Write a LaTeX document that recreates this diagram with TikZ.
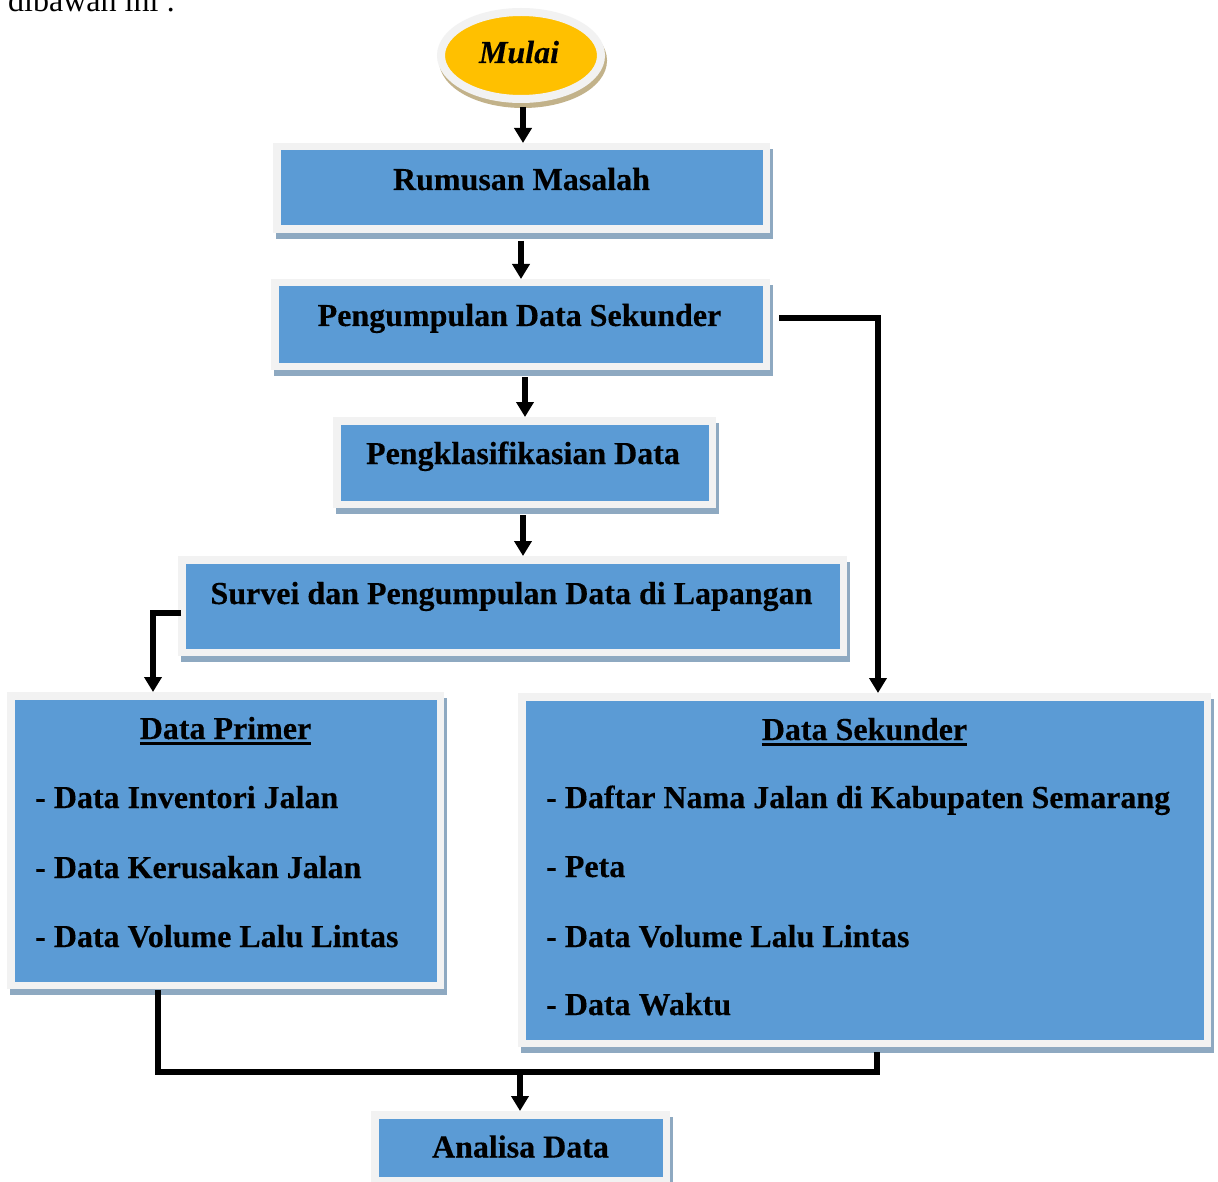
\documentclass[tikz,border=0pt]{standalone}
\usepackage{fontspec}
\setmainfont[BoldFeatures={FakeBold=0.3},BoldItalicFeatures={FakeBold=0.3}]{Liberation Serif}
\usetikzlibrary{arrows.meta,shapes.geometric}
\definecolor{boxblue}{HTML}{5B9BD5}
\definecolor{ringgray}{HTML}{F2F2F2}
\definecolor{shadowcol}{HTML}{8EA9C1}
\definecolor{startyellow}{HTML}{FFC000}
\definecolor{tanshadow}{HTML}{C2B28A}
\newcommand\ulbox[1]{\setbox0\hbox{#1}\rlap{\rule[-5.5pt]{\wd0}{2.3pt}}\box0}
\tikzset{
  flowbox/.style={draw=ringgray, line width=7.5pt, fill=boxblue, inner sep=0pt,
    preaction={draw=shadowcol, fill=shadowcol, transform canvas={xshift=3pt,yshift=-6pt}}},
  startnode/.style={ellipse, draw=ringgray, line width=8pt, fill=startyellow, inner sep=0pt,
    preaction={draw=tanshadow, fill=tanshadow, transform canvas={xshift=2pt,yshift=-5pt}}},
  btxt/.style={font=\fontsize{32}{38}\selectfont\bfseries, inner sep=0pt},
  arr/.style={line width=5.5pt, line join=miter, -{Triangle[width=17pt,length=15pt]}},
  conn/.style={line width=5.5pt, line join=miter}
}
\begin{document}
\begin{tikzpicture}[x=1pt,y=-1pt]
\useasboundingbox[fill=white] (0,0) rectangle (1218,1182);

% intro text (cut at top, as in the reference)
\node[font=\fontsize{32}{38}\selectfont, inner sep=0pt, anchor=base west] (intro) at (8,12) {dibawah ini :};

% start
\node[startnode, minimum width=160pt, minimum height=87pt] (mulai) at (521,55.5) {};
\node[btxt, font=\fontsize{32}{38}\selectfont\bfseries\itshape, anchor=base] (mulaiT) at (519,63) {Mulai};

% boxes
\node[flowbox, minimum width=489.5pt, minimum height=82.5pt] (rumus) at (521.5,188) {};
\node[btxt, anchor=base] (rumusT) at (521.5,190) {Rumusan Masalah};

\node[flowbox, minimum width=491.5pt, minimum height=83.5pt] (pengump) at (520.5,324.5) {};
\node[btxt, anchor=base] (pengumpT) at (519.5,326) {Pengumpulan Data Sekunder};

\node[flowbox, minimum width=375.5pt, minimum height=83.5pt] (klas) at (524.5,462.5) {};
\node[btxt, anchor=base] (klasT) at (523,464) {Pengklasifikasian Data};

\node[flowbox, minimum width=661.5pt, minimum height=92.5pt] (survei) at (512.5,606) {};
\node[btxt, anchor=base] (surveiT) at (511.5,604) {Survei dan Pengumpulan Data di Lapangan};

\node[flowbox, minimum width=429.5pt, minimum height=289.5pt] (primer) at (225.5,840.5) {};
\node[btxt, anchor=base] (primerT) at (225.5,739) {\ulbox{Data Primer}};
\node[btxt, anchor=base west] (primer1) at (35,808) {- Data Inventori Jalan};
\node[btxt, anchor=base west] (primer2) at (35,878) {- Data Kerusakan Jalan};
\node[btxt, anchor=base west] (primer3) at (35,947) {- Data Volume Lalu Lintas};

\node[flowbox, minimum width=685.5pt, minimum height=346.5pt] (sek) at (864.5,870) {};
\node[btxt, anchor=base] (sekT) at (864.5,740) {\ulbox{Data Sekunder}};
\node[btxt, anchor=base west] (sek1) at (546,808) {- Daftar Nama Jalan di Kabupaten Semarang};
\node[btxt, anchor=base west] (sek2) at (546,877) {- Peta};
\node[btxt, anchor=base west] (sek3) at (546,947) {- Data Volume Lalu Lintas};
\node[btxt, anchor=base west] (sek4) at (546,1015) {- Data Waktu};

\node[flowbox, minimum width=291.5pt, minimum height=65.5pt] (analisa) at (520.5,1147.5) {};
\node[btxt, anchor=base] (analisaT) at (520.5,1157.5) {Analisa Data};

% connectors
\coordinate (a1s) at ([xshift=2pt,yshift=-4pt]mulai.south);
\draw[arr] (a1s) -- (a1s |- rumus.north);

\coordinate (a2s) at ([xshift=-0.5pt,yshift=-8pt]rumus.south);
\draw[arr] (a2s) -- (a2s |- pengump.north);

\coordinate (a3s) at ([xshift=4.5pt,yshift=-7pt]pengump.south);
\draw[arr] (a3s) -- (a3s |- klas.north);

\coordinate (a4s) at ([xshift=-1.5pt,yshift=-7pt]klas.south);
\draw[arr] (a4s) -- (a4s |- survei.north);

\coordinate (a5s) at ([xshift=3pt,yshift=-7pt]survei.west);
\coordinate (a5e) at ([xshift=-72.5pt]primer.north);
\draw[arr] (a5s) -| (a5e);

\coordinate (a6s) at ([xshift=9pt,yshift=6.5pt]pengump.east);
\coordinate (a6e) at ([xshift=13.5pt]sek.north);
\draw[arr] (a6s) -| (a6e);

\coordinate (a7s) at ([xshift=-67.5pt,yshift=-1pt]primer.south);
\coordinate (a7r) at ([xshift=12.5pt,yshift=-5pt]sek.south);
\coordinate (j) at (520,1072);
\draw[conn] (a7s) |- (a7r |- j) -- (a7r);
\draw[arr] (j) -- (j |- analisa.north);
\end{tikzpicture}
\end{document}
